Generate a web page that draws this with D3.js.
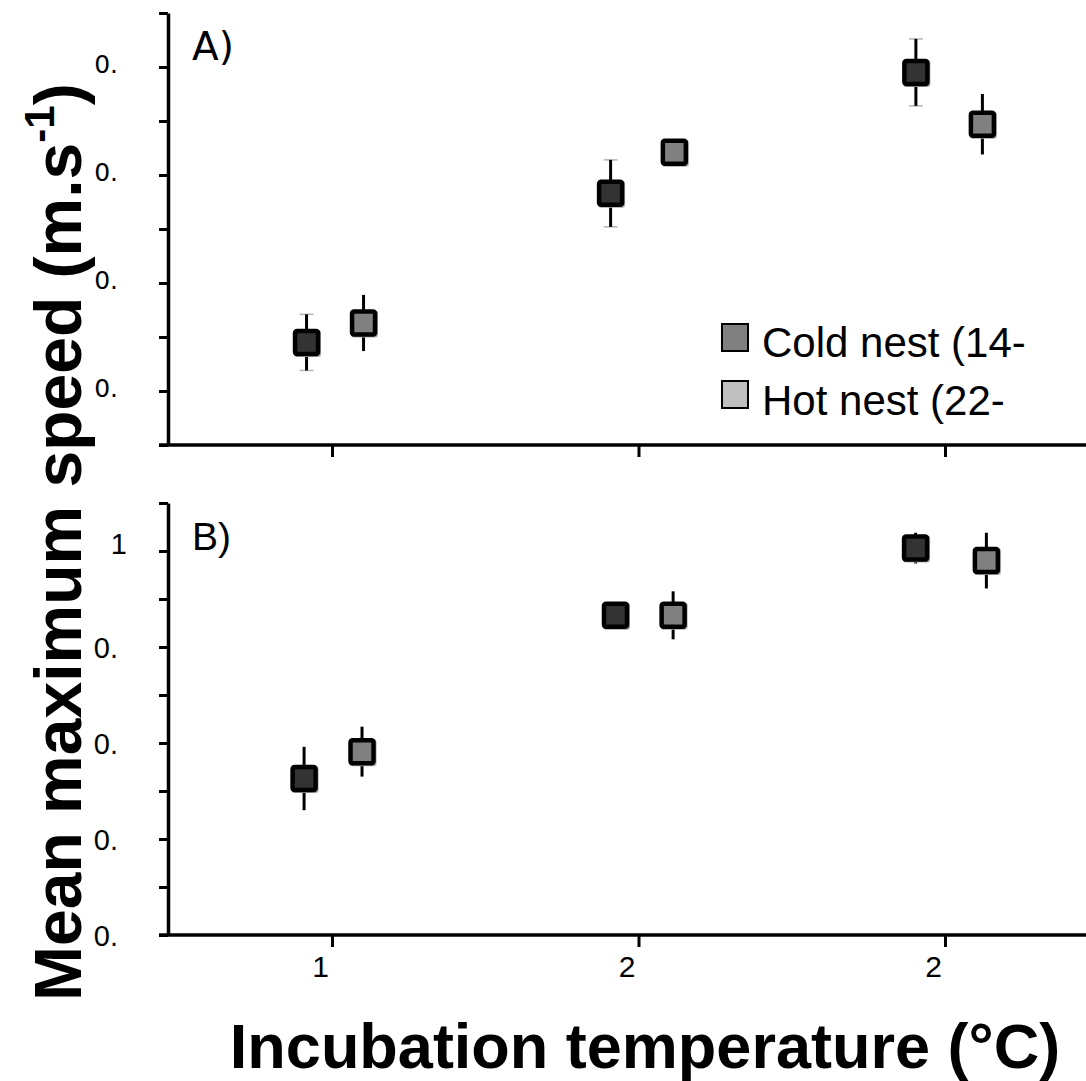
<!DOCTYPE html>
<html>
<head>
<meta charset="utf-8">
<script src="https://cdn.jsdelivr.net/npm/d3@7"></script>
<style>
  body { margin: 0; background: #fff; }
  svg { display: block; }
</style>
</head>
<body>
<svg id="chart" width="1086" height="1081"></svg>
<script>
// x categories and their (truncated) tick labels
const cats = [1, 2, 3];
const xTickLabels = ["1", "2", "2"];

// panel A
const coldXA = [0.917, 1.909, 2.905];
const coldA = [0.345, 0.483, 0.595];
const coldErrA = [0.026, 0.031, 0.031];
const hotXA = [1.103, 2.117, 3.122];
const hotA = [0.363, 0.521, 0.547];
const hotErrA = [0.026, 0.012, 0.028];
const yMajorA = [0.3, 0.4, 0.5, 0.6];
const yLabelsA = ["0.", "0.", "0.", "0."];
const yMinorA = [0.25, 0.35, 0.45, 0.55, 0.65];

// panel B
const coldXB = [0.909, 1.925, 2.904];
const coldB = [0.763, 0.933, 1.003];
const coldErrB = [0.033, 0.008, 0.016];
const hotXB = [1.098, 2.113, 3.135];
const hotB = [0.791, 0.933, 0.990];
const hotErrB = [0.026, 0.025, 0.029];
const yMajorB = [0.6, 0.7, 0.8, 0.9, 1.0];
const yLabelsB = ["0.", "0.", "0.", "0.", "1"];
const yMinorB = [0.65, 0.75, 0.85, 0.95, 1.05];

const legendLabels = ["Cold nest (14-", "Hot nest (22-"];
const legendFills = ["#808080", "#c0c0c0"];

const svg = d3.select("#chart");

let xscale = d3.scaleLinear([0.465, 3.46], [168, 1086]);

function drawPanel(cfg) {
    let g = svg.append("g");
    let yscale = d3.scaleLinear(cfg.domain, cfg.range);
    let bottom = cfg.range[0];

    // y axis
    let ticks = cfg.major.concat(cfg.minor);
    let yAxis = d3.axisLeft(yscale)
        .tickValues(ticks)
        .tickSize(9)
        .tickSizeOuter(0)
        .tickPadding(41)
        .tickFormat(d => {
            let i = cfg.major.indexOf(d);
            return i >= 0 ? cfg.labels[i] : "";
        });
    let ya = g.append("g")
        .attr("transform", "translate(168,0)")
        .attr("font-size", null)
        .call(yAxis);
    ya.select(".domain").attr("stroke-width", 3.5);
    ya.selectAll(".tick line").attr("stroke-width", 3);
    ya.selectAll(".tick text")
        .attr("font-family", cfg.tickFont)
        .attr("font-size", cfg.tickSize)
        .attr("dy", cfg.tickDy)
        .attr("fill", "#000")
        .filter(function () { return this.textContent === "1"; })
        .attr("dx", 9)
        .attr("dy", "0.1em");

    // x axis
    let xAxis = d3.axisBottom(xscale)
        .tickValues(cats)
        .tickSize(12)
        .tickSizeOuter(0)
        .tickPadding(9)
        .tickFormat((d, i) => cfg.showX ? xTickLabels[i] : "");
    let xa = g.append("g")
        .attr("transform", "translate(0," + bottom + ")")
        .call(xAxis);
    xa.select(".domain").attr("stroke-width", 3.5).attr("d", "M159,0H1086");
    xa.selectAll(".tick line").attr("stroke-width", 3);
    xa.selectAll(".tick text")
        .attr("font-family", "'Liberation Sans', Arial, sans-serif")
        .attr("font-size", 30)
        .attr("dx", -12)
        .attr("fill", "#000");

    // panel label
    g.append("text")
        .attr("x", 192)
        .attr("y", cfg.labelY)
        .style("font-family", cfg.labelFont)
        .style("font-size", "39px")
        .text(cfg.label);

    let series = [
        { xs: cfg.coldX, ys: cfg.cold, es: cfg.coldErr, fill: "#333333", caps: cfg.caps },
        { xs: cfg.hotX, ys: cfg.hot, es: cfg.hotErr, fill: "#808080", caps: false }
    ];

    series.forEach(s => {
        let pts = s.xs.map((x, i) => ({ x: x, y: s.ys[i], e: s.es[i] }));

        if (s.caps) {
            g.selectAll(null)
                .data(pts.flatMap(d => [d.y - d.e, d.y + d.e].map(v => ({ x: d.x, v: v }))))
                .enter()
                .append("line")
                .attr("x1", d => xscale(d.x) - 7)
                .attr("x2", d => xscale(d.x) + 7)
                .attr("y1", d => yscale(d.v))
                .attr("y2", d => yscale(d.v))
                .attr("stroke", "#b5b5b5")
                .attr("stroke-width", 1.5);
        }

        g.selectAll(null)
            .data(pts)
            .enter()
            .append("line")
            .attr("x1", d => xscale(d.x))
            .attr("x2", d => xscale(d.x))
            .attr("y1", d => yscale(d.y - d.e))
            .attr("y2", d => yscale(d.y + d.e))
            .attr("stroke", "#000")
            .attr("stroke-width", 3);

        // soft shadow
        g.selectAll(null)
            .data(pts)
            .enter()
            .append("rect")
            .attr("x", d => xscale(d.x) - 12.5)
            .attr("y", d => yscale(d.y) - 12.5)
            .attr("width", 27)
            .attr("height", 27)
            .attr("rx", 3)
            .attr("fill", "#a8a8a8");

        g.selectAll(null)
            .data(pts)
            .enter()
            .append("rect")
            .attr("x", d => xscale(d.x) - 11.5)
            .attr("y", d => yscale(d.y) - 11.5)
            .attr("width", 23)
            .attr("height", 23)
            .attr("rx", 2)
            .attr("fill", s.fill)
            .attr("stroke", "#000")
            .attr("stroke-width", 4.5);
    });

    return g;
}

drawPanel({
    domain: [0.25, 0.65], range: [445, 13],
    major: yMajorA, minor: yMinorA, labels: yLabelsA,
    tickFont: "'DejaVu Sans', sans-serif", tickSize: 25, tickDy: "0.22em",
    coldX: coldXA, cold: coldA, coldErr: coldErrA,
    hotX: hotXA, hot: hotA, hotErr: hotErrA,
    caps: true, showX: false,
    label: "A)", labelY: 60, labelFont: "'DejaVu Sans', sans-serif"
});

drawPanel({
    domain: [0.6, 1.05], range: [935, 503],
    major: yMajorB, minor: yMinorB, labels: yLabelsB,
    tickFont: "'Liberation Sans', Arial, sans-serif", tickSize: 29, tickDy: "0.36em",
    coldX: coldXB, cold: coldB, coldErr: coldErrB,
    hotX: hotXB, hot: hotB, hotErr: hotErrB,
    caps: false, showX: true,
    label: "B)", labelY: 550, labelFont: "'Liberation Sans', Arial, sans-serif"
});

// legend
let leg = svg.append("g").attr("transform", "translate(721,323)");
legendLabels.forEach((lab, i) => {
    leg.append("rect")
        .attr("x", 1)
        .attr("y", 1 + i * 57)
        .attr("width", 26)
        .attr("height", 27)
        .attr("fill", legendFills[i])
        .attr("stroke", "#000")
        .attr("stroke-width", 2);
    leg.append("text")
        .attr("x", 41)
        .attr("y", 34 + i * 58)
        .style("font-family", "'Liberation Sans', Arial, sans-serif")
        .style("font-size", "42px")
        .text(lab);
});

// axis titles
svg.append("text")
    .attr("x", 645)
    .attr("y", 1068)
    .attr("text-anchor", "middle")
    .style("font-family", "'Liberation Sans', Arial, sans-serif")
    .style("font-weight", "bold")
    .style("font-size", "63px")
    .text("Incubation temperature (°C)");

let yt = svg.append("text")
    .attr("transform", "translate(81,1001) rotate(-90)")
    .attr("text-anchor", "start")
    .style("font-family", "'Liberation Sans', Arial, sans-serif")
    .style("font-weight", "bold")
    .style("font-size", "66px");
yt.append("tspan").text("Mean maximum speed (m.s");
yt.append("tspan").attr("dy", -27).style("font-size", "42px").text("-1");
yt.append("tspan").attr("dy", 27).text(")");
</script>
</body>
</html>
